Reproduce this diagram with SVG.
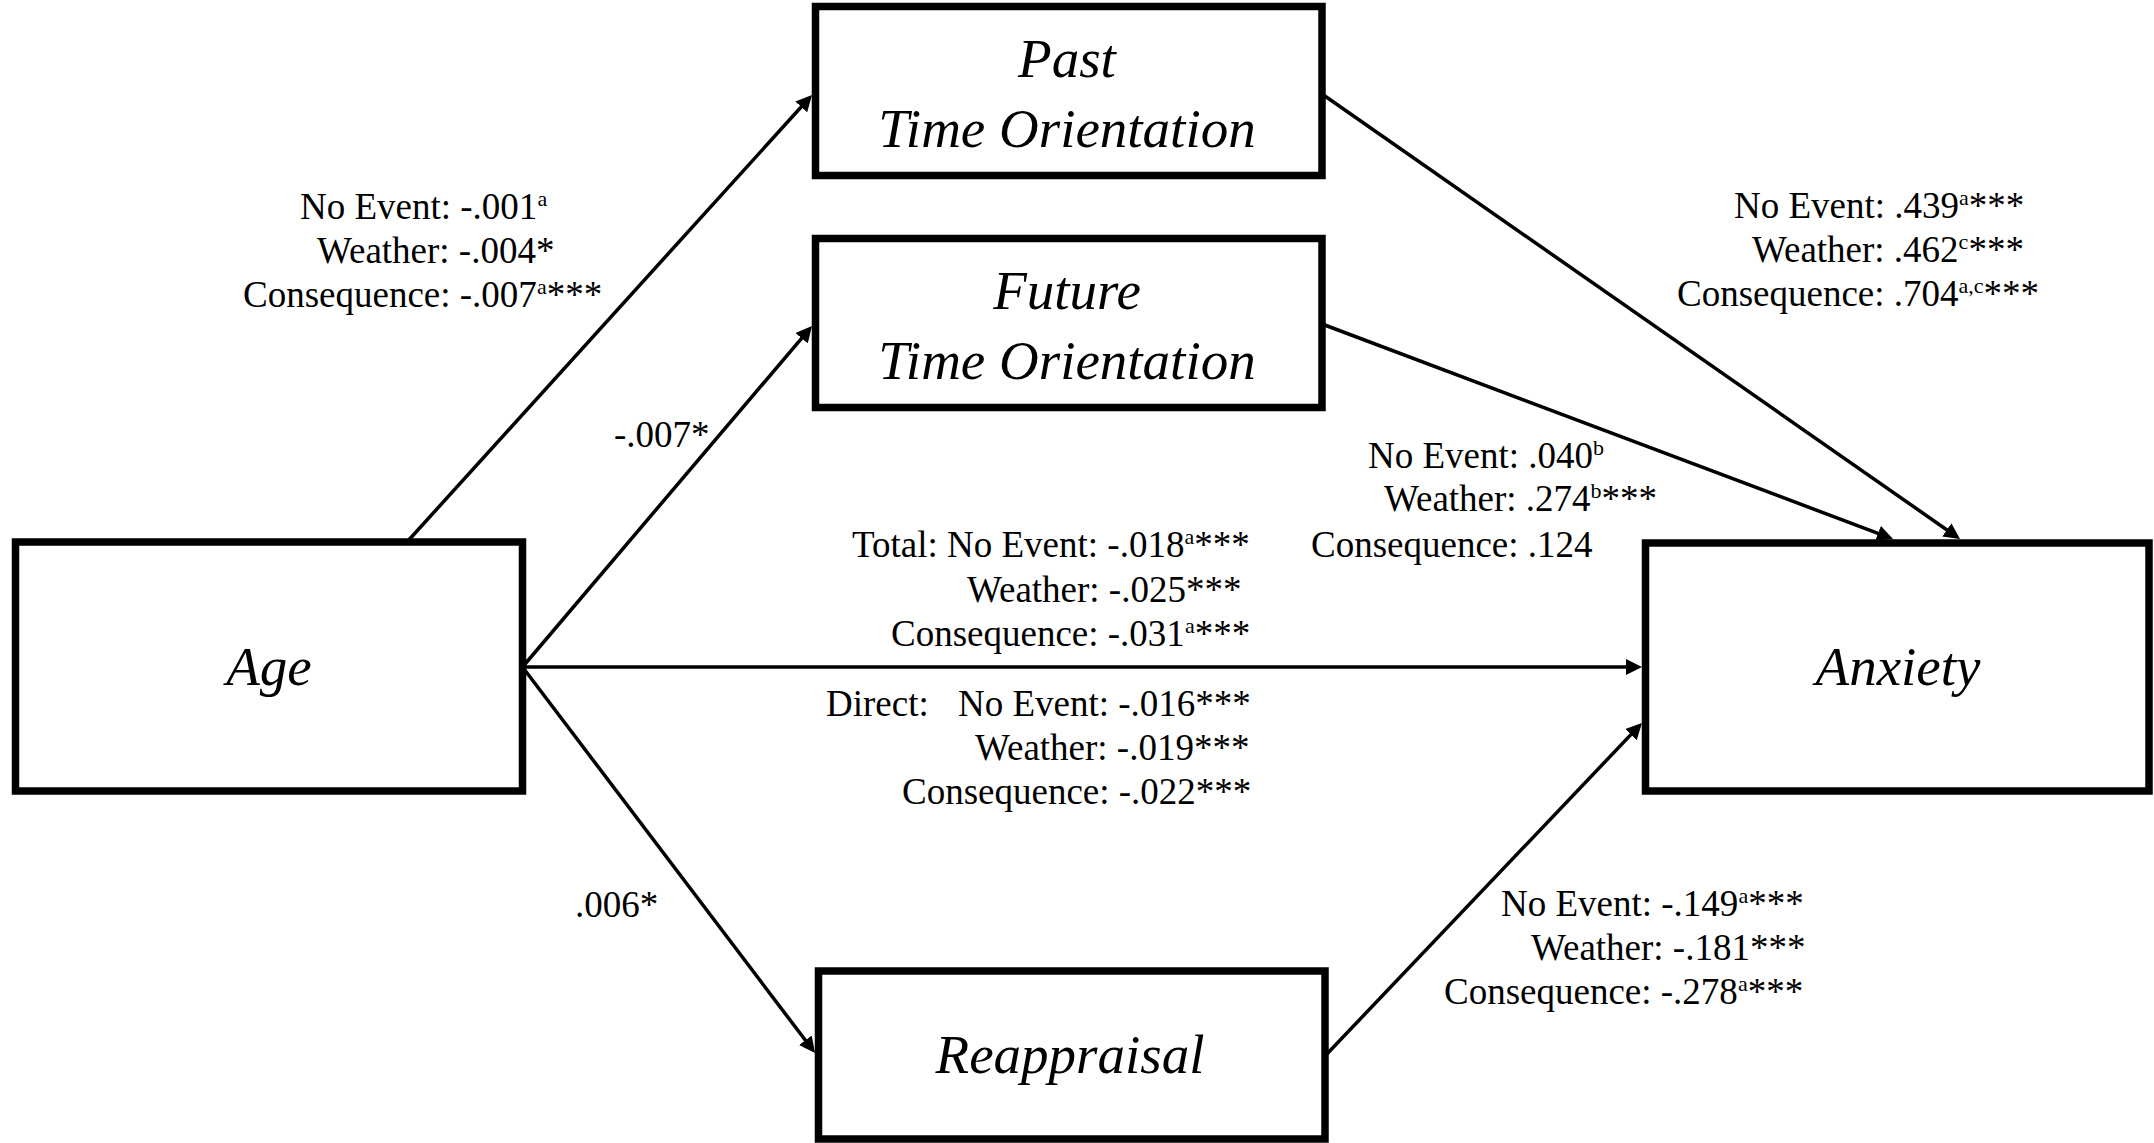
<svg xmlns="http://www.w3.org/2000/svg" width="2154" height="1143" viewBox="0 0 2154 1143">
<style>
.box{fill:#fff;stroke:#000;stroke-width:7.5}
.nt{font-family:"Liberation Serif","Times New Roman",serif;font-style:italic;font-size:55px;text-anchor:middle;fill:#000}
.lb{font-family:"Liberation Serif","Times New Roman",serif;font-size:37px;fill:#000}
.sup{font-size:22px}
.ln{fill:none;stroke:#000;stroke-width:3.5}
</style>
<defs>
<marker id="ah" markerUnits="userSpaceOnUse" markerWidth="16" markerHeight="16" refX="12" refY="8" orient="auto" viewBox="0 0 16 16">
<path d="M0,0 L16,8 L0,16 z" fill="#000"/>
</marker>
</defs>
<rect width="2154" height="1143" fill="#fff"/>
<g id="connectors">
<line class="ln" x1="407" y1="542" x2="809.3" y2="98" marker-end="url(#ah)"/>
<line class="ln" x1="522.5" y1="667" x2="809.4" y2="329.1" marker-end="url(#ah)"/>
<line class="ln" x1="522.5" y1="667" x2="1638" y2="667" marker-end="url(#ah)"/>
<line class="ln" x1="522.5" y1="667" x2="812.6" y2="1049.8" marker-end="url(#ah)"/>
<line class="ln" x1="1322" y1="94" x2="1956.7" y2="536.7" marker-end="url(#ah)"/>
<line class="ln" x1="1322" y1="324" x2="1889.3" y2="537.6" marker-end="url(#ah)"/>
<line class="ln" x1="1325" y1="1056" x2="1639.2" y2="725.9" marker-end="url(#ah)"/>
</g>
<g id="past">
<rect class="box" x="815.5" y="6.5" width="506.5" height="169"/>
<text class="nt" x="1067" y="77">Past</text>
<text class="nt" x="1067" y="147">Time Orientation</text>
</g>
<g id="future">
<rect class="box" x="815.5" y="238.5" width="506.5" height="169"/>
<text class="nt" x="1067" y="309">Future</text>
<text class="nt" x="1067" y="379">Time Orientation</text>
</g>
<g id="age">
<rect class="box" x="15.5" y="542" width="507" height="249"/>
<text class="nt" x="269" y="685">Age</text>
</g>
<g id="anxiety">
<rect class="box" x="1645.5" y="543" width="503.5" height="248"/>
<text class="nt" x="1898" y="685">Anxiety</text>
</g>
<g id="reappraisal">
<rect class="box" x="818.5" y="971" width="506.5" height="168"/>
<text class="nt" x="1070" y="1073">Reappraisal</text>
</g>
<g id="labels">
<text class="lb" x="300" y="219">No Event: -.001<tspan class="sup" dy="-13">a</tspan></text>
<text class="lb" x="317" y="263">Weather: -.004*</text>
<text class="lb" x="243" y="307">Consequence: -.007<tspan class="sup" dy="-13">a</tspan><tspan dy="13">***</tspan></text>
<text class="lb" x="614" y="447">-.007*</text>
<text class="lb" x="575" y="917">.006*</text>
<text class="lb" x="1734" y="218">No Event: .439<tspan class="sup" dy="-13">a</tspan><tspan dy="13">***</tspan></text>
<text class="lb" x="1752" y="262">Weather: .462<tspan class="sup" dy="-13">c</tspan><tspan dy="13">***</tspan></text>
<text class="lb" x="1677" y="306">Consequence: .704<tspan class="sup" dy="-13">a,c</tspan><tspan dy="13">***</tspan></text>
<text class="lb" x="1368" y="468">No Event: .040<tspan class="sup" dy="-13">b</tspan></text>
<text class="lb" x="1384" y="511">Weather: .274<tspan class="sup" dy="-13">b</tspan><tspan dy="13">***</tspan></text>
<text class="lb" x="1311" y="557">Consequence: .124</text>
<text class="lb" x="852" y="557">Total: No Event: -.018<tspan class="sup" dy="-13">a</tspan><tspan dy="13">***</tspan></text>
<text class="lb" x="967" y="602">Weather: -.025***</text>
<text class="lb" x="891" y="646">Consequence: -.031<tspan class="sup" dy="-13">a</tspan><tspan dy="13">***</tspan></text>
<text class="lb" x="826" y="716">Direct:<tspan x="958">No Event: -.016***</tspan></text>
<text class="lb" x="975" y="760">Weather: -.019***</text>
<text class="lb" x="902" y="804">Consequence: -.022***</text>
<text class="lb" x="1501" y="916">No Event: -.149<tspan class="sup" dy="-13">a</tspan><tspan dy="13">***</tspan></text>
<text class="lb" x="1531" y="960">Weather: -.181***</text>
<text class="lb" x="1444" y="1004">Consequence: -.278<tspan class="sup" dy="-13">a</tspan><tspan dy="13">***</tspan></text>
</g>
</svg>
